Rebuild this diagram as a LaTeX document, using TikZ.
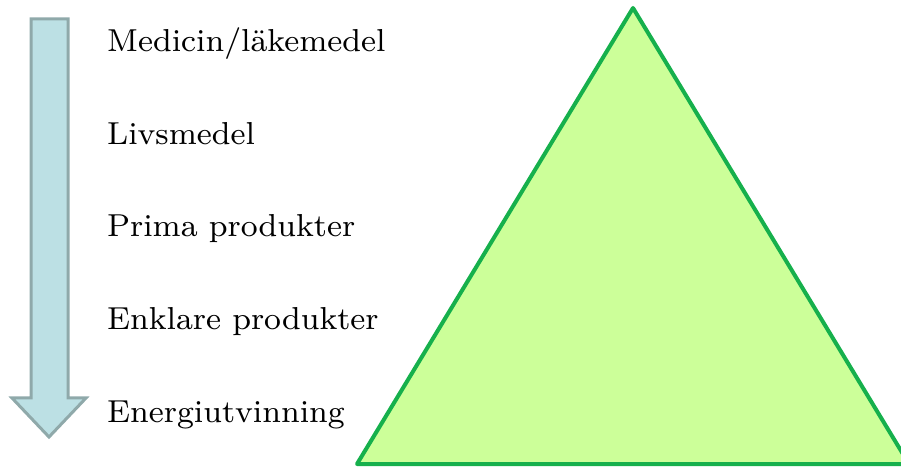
\documentclass[tikz,border=0pt]{standalone}
\usetikzlibrary{positioning}
\definecolor{arrowfill}{HTML}{BCE0E4}
\definecolor{arrowline}{HTML}{8FA9AA}
\definecolor{pyrfill}{HTML}{CCFF99}
\definecolor{pyrline}{HTML}{16B04C}
% level labels: 8pt design size, enlarged
\newcommand{\leveltext}[1]{\scalebox{3.97}{\fontsize{8}{9}\selectfont #1}}
\begin{document}
\begin{tikzpicture}[x=1pt,y=1pt,
  level/.style={anchor=base west,inner sep=0pt},
  downarrow/.style={fill=arrowfill,draw=arrowline,line width=3pt,line join=miter},
  pyramid/.style={fill=pyrfill,draw=pyrline,line width=4pt,line join=round}]
\useasboundingbox (0,0) rectangle (901,468);
% block arrow pointing down
\coordinate (tip) at (49,31);
\draw[downarrow] (31,449) -- (68,449) -- (68,70) -- (86,70) -- (tip)
  -- (12,70) -- (31,70) -- cycle;
% the levels, from highest value down
\node[level] (l1) at (107,416) {\leveltext{Medicin/läkemedel}};
\node[level] (l2) at (107,323.5) {\leveltext{Livsmedel}};
\node[level] (l3) at (107,231) {\leveltext{Prima produkter}};
\node[level] (l4) at (107,138.5) {\leveltext{Enklare produkter}};
\node[level] (l5) at (107,46) {\leveltext{Energiutvinning}};
% the pyramid
\begin{scope}
\clip (0,0) rectangle (901,468);
\coordinate (apex) at (633,460);
\coordinate (bl) at (357,4);
\coordinate (br) at (909,4);
\draw[pyramid] (apex) -- (br) -- (bl) -- cycle;
\end{scope}
\end{tikzpicture}
\end{document}
